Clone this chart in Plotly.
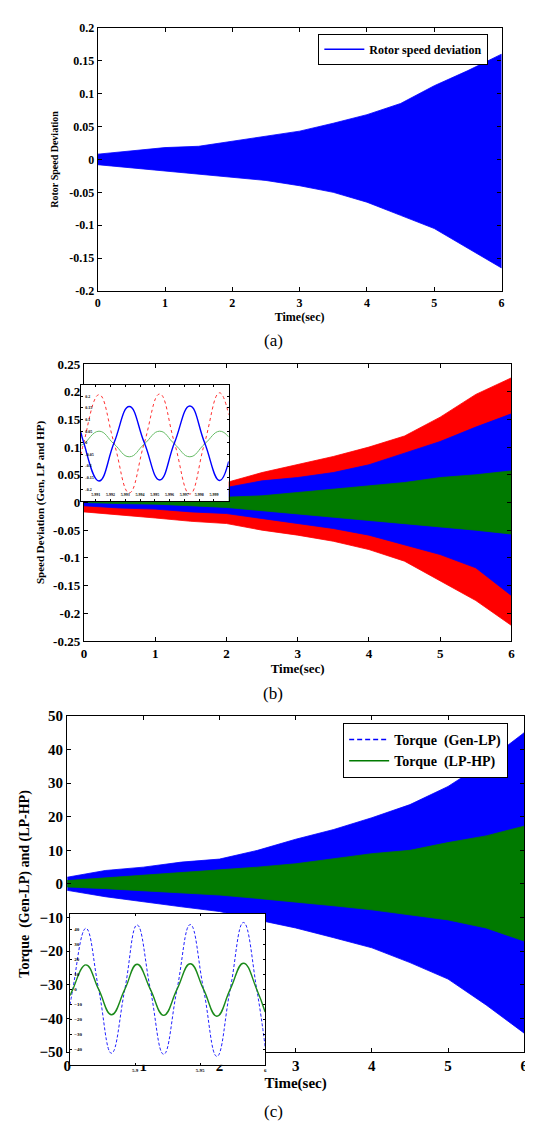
import plotly.graph_objects as go

W, H = 533, 1122
FONT = "Times New Roman, Liberation Serif, serif"

# ---------------- data ----------------
t_env = [0, 0.5, 1, 1.5, 2, 2.5, 3, 3.5, 4, 4.5, 5, 5.5, 6]

# (a) rotor speed deviation envelope
a_upper = [0.008, 0.013, 0.018, 0.020, 0.028, 0.035, 0.043, 0.055, 0.068, 0.085, 0.112, 0.135, 0.160]
a_lower = [-0.008, -0.012, -0.017, -0.022, -0.027, -0.032, -0.040, -0.050, -0.065, -0.085, -0.105, -0.135, -0.165]

# (b) speed deviation envelopes (Gen, LP, HP)
b_red_upper = [0.012, 0.018, 0.024, 0.030, 0.036, 0.054, 0.068, 0.083, 0.100, 0.120, 0.154, 0.195, 0.225]
b_red_lower = [-0.017, -0.023, -0.028, -0.034, -0.038, -0.050, -0.059, -0.070, -0.085, -0.106, -0.142, -0.177, -0.222]
b_blue_upper = [0.006, 0.010, 0.014, 0.020, 0.027, 0.039, 0.045, 0.054, 0.068, 0.089, 0.110, 0.136, 0.160]
b_blue_lower = [-0.006, -0.010, -0.012, -0.017, -0.020, -0.029, -0.038, -0.047, -0.059, -0.077, -0.094, -0.118, -0.168]
b_green_upper = [0.002, 0.003, 0.005, 0.007, 0.009, 0.012, 0.018, 0.024, 0.030, 0.036, 0.045, 0.050, 0.057]
b_green_lower = [0.000, -0.002, -0.003, -0.006, -0.009, -0.014, -0.020, -0.026, -0.032, -0.038, -0.044, -0.050, -0.057]

# (b) inset: zoom 5.99 - 6 s
bi_t = [5.99, 5.99019, 5.99122, 5.99224, 5.99327, 5.99429, 5.99533, 5.99633, 5.99737, 5.99837, 5.99938, 6.0]
bi_red = [-0.05, 0, 0.207, 0, -0.215, 0, 0.210, 0, -0.220, 0, 0.215, 0.12]
bi_blue = [0.045, 0, -0.164, 0, 0.156, 0, -0.160, 0, 0.158, 0, -0.162, -0.08]
bi_green = [-0.01, -0.005, 0.050, -0.005, -0.060, -0.005, 0.050, -0.005, -0.060, -0.005, 0.050, 0.025]

# (c) torque envelopes
c_blue_upper = [2, 4, 5, 6.5, 7.4, 10, 13.3, 16.2, 19.7, 23.6, 29, 36.3, 45]
c_blue_lower = [-1.9, -3.8, -5.3, -6.8, -8.2, -10.7, -13.1, -16, -19, -23.4, -28.3, -36, -44.4]
c_green_upper = [1, 1.8, 2.5, 3.2, 4, 5, 6, 7.5, 9, 10, 12.3, 14.3, 17.2]
c_green_lower = [-0.9, -1.4, -1.9, -2.6, -3.3, -4.3, -5.3, -6.5, -7.7, -9.2, -10.7, -13.1, -17]

# (c) inset: zoom 5.85 - 6 s
ci_t = [5.85, 5.85205, 5.86212, 5.87197, 5.88182, 5.89205, 5.90152, 5.91174, 5.92197,
        5.93220, 5.94242, 5.95265, 5.96288, 5.97311, 5.98333, 5.99356, 6.0]
ci_blue = [-10, 0, 40.5, 0, -42.3, 0, 42.7, 0, -43, 0, 43, 0, -44.4, 0, 44.4, 0, -38]
ci_green = [-4, 0, 16.3, 0, -16.8, 0, 16.7, 0, -17.2, 0, 17, 0, -17.8, 0, 17.4, 0, -15]

# ---------------- helpers ----------------
def dx(a, b):
    return [a / W, b / W]

def dy(top, bot):
    return [1 - bot / H, 1 - top / H]

def band(t, up, lo, color, xa, ya):
    return go.Scatter(x=list(t) + list(t[::-1]), y=list(up) + list(lo[::-1]),
                      fill="toself", fillcolor=color, mode="lines",
                      line=dict(color=color, width=0.8), showlegend=False,
                      xaxis=xa, yaxis=ya, hoverinfo="skip")

def wave(t, v, color, width, dash, xa, ya):
    return go.Scatter(x=t, y=v, mode="lines",
                      line=dict(color=color, width=width, dash=dash, shape="spline", smoothing=1.3),
                      showlegend=False, xaxis=xa, yaxis=ya)

fig = go.Figure()

# (a)
fig.add_trace(band(t_env, a_upper, a_lower, "#0000FF", "x", "y"))
fig.add_trace(go.Scatter(x=[None], y=[None], mode="lines", name="Rotor speed deviation",
                         line=dict(color="#0000FF", width=1.5), xaxis="x", yaxis="y", legend="legend"))

# (b)
fig.add_trace(band(t_env, b_red_upper, b_red_lower, "#FF0000", "x2", "y2"))
fig.add_trace(band(t_env, b_blue_upper, b_blue_lower, "#0000FF", "x2", "y2"))
fig.add_trace(band(t_env, b_green_upper, b_green_lower, "#007A00", "x2", "y2"))

# (b) inset
fig.add_trace(wave(bi_t, bi_red, "#FF3030", 1, "dot", "x3", "y3"))
fig.add_trace(wave(bi_t, bi_green, "#66BB66", 1, "solid", "x3", "y3"))
fig.add_trace(wave(bi_t, bi_blue, "#0000FF", 1.4, "solid", "x3", "y3"))

# (c)
fig.add_trace(band(t_env, c_blue_upper, c_blue_lower, "#0000FF", "x4", "y4"))
fig.add_trace(band(t_env, c_green_upper, c_green_lower, "#007A00", "x4", "y4"))
fig.add_trace(go.Scatter(x=[None], y=[None], mode="lines", name="Torque  (Gen-LP)",
                         line=dict(color="#0000FF", width=1.5, dash="5px,3px"), xaxis="x4", yaxis="y4", legend="legend2"))
fig.add_trace(go.Scatter(x=[None], y=[None], mode="lines", name="Torque  (LP-HP)",
                         line=dict(color="#007A00", width=1.5), xaxis="x4", yaxis="y4", legend="legend2"))

# (c) inset
fig.add_trace(wave(ci_t, ci_blue, "#2020FF", 1, "3px,2px", "x5", "y5"))
fig.add_trace(wave(ci_t, ci_green, "#1A8A1A", 1.4, "solid", "x5", "y5"))

def ax(domain, rng, dtick, fs, title=None, tfs=None, anchor=None, tickvals=None, ticktext=None,
       ticklen=4, inside=False, standoff=4):
    d = dict(domain=domain, range=rng, showgrid=False, zeroline=False, showline=True,
             linecolor="black", linewidth=1.3, mirror="ticks", ticks="inside", ticklen=ticklen,
             tickcolor="black", tickfont=dict(family=FONT, size=fs, color="black", weight="bold"),
             anchor=anchor)
    if inside:
        d["ticklabelposition"] = "inside"
    if tickvals is not None:
        d["tickmode"] = "array"
        d["tickvals"] = tickvals
        d["ticktext"] = ticktext
    else:
        d["dtick"] = dtick
        d["tick0"] = 0
    if title:
        d["title"] = dict(text=title, font=dict(family=FONT, size=tfs, color="black", weight="bold"),
                          standoff=standoff)
    return d

a_yt = [-0.2, -0.15, -0.1, -0.05, 0, 0.05, 0.1, 0.15, 0.2]
a_ytt = ["-0.2", "-0.15", "-0.1", "-0.05", "0", "0.05", "0.1", "0.15", "0.2"]
b_yt = [-0.25, -0.2, -0.15, -0.1, -0.05, 0, 0.05, 0.1, 0.15, 0.2, 0.25]
b_ytt = ["-0.25", "-0.2", "-0.15", "-0.1", "-0.05", "0", "0.05", "0.1", "0.15", "0.2", "0.25"]
bi_xt = [5.99 + 0.001 * i for i in range(11)]
bi_xtt = ["5.99"] + ["5.99%d" % i for i in range(1, 10)] + ["6"]

fig.update_layout(
    width=W, height=H, margin=dict(l=0, r=0, t=0, b=0),
    paper_bgcolor="white", plot_bgcolor="white",
    xaxis=ax(dx(87, 497), [0, 6], 1, 12, "Time(sec)", 12, "y"),
    yaxis=ax(dy(12, 279), [-0.2, 0.2], 0.05, 12, "Rotor Speed Deviation", 10, "x", a_yt, a_ytt, standoff=8),
    xaxis2=ax(dx(73, 507), [0, 6], 1, 13, "Time(sec)", 13, "y2"),
    yaxis2=ax(dy(353, 634), [-0.25, 0.25], 0.05, 13, "Speed Deviation (Gen, LP and HP)", 11, "x2", b_yt, b_ytt, standoff=6),
    xaxis3=ax(dx(70, 220), [5.99, 6.0], 0.001, 4, None, None, "y3", bi_xt, bi_xtt, 2, inside=True),
    yaxis3=ax(dy(374, 492), [-0.25, 0.25], 0.05, 4, None, None, "x3", b_yt, b_ytt, 2, inside=True),
    xaxis4=ax(dx(56, 520), [0, 6], 1, 15, "Time(sec)", 15, "y4"),
    yaxis4=ax(dy(710, 1051), [-50, 50], 10, 15, "Torque  (Gen-LP) and (LP-HP)", 14, "x4", standoff=6),
    xaxis5=ax(dx(59, 257), [5.85, 6.0], 0.05, 5, None, None, "y5", [5.85, 5.9, 5.95, 6.0], ["5.85", "5.9", "5.95", "6"], 2),
    yaxis5=ax(dy(911, 1064), [-50, 50], 10, 5, None, None, "x5", None, None, 2, inside=True),
    legend=dict(x=311 / W, y=1 - 18 / H, xanchor="left", yanchor="top", bgcolor="white",
                bordercolor="black", borderwidth=1, font=dict(family=FONT, size=12, color="black", weight="bold"),
                tracegroupgap=0, itemwidth=40),
    legend2=dict(x=336 / W, y=1 - 717 / H, xanchor="left", yanchor="top", bgcolor="white",
                 bordercolor="black", borderwidth=1.2, font=dict(family=FONT, size=14, color="black", weight="bold"),
                 tracegroupgap=0, itemwidth=40),
    showlegend=True,
)

for txt, yy in [("(a)", 329), ("(b)", 687), ("(c)", 1111)]:
    fig.add_annotation(text=txt, x=265 / W, y=1 - yy / H, xref="paper", yref="paper", showarrow=False,
                       font=dict(family=FONT, size=17, color="black"), xanchor="center", yanchor="middle")

fig.write_html("out.html")
